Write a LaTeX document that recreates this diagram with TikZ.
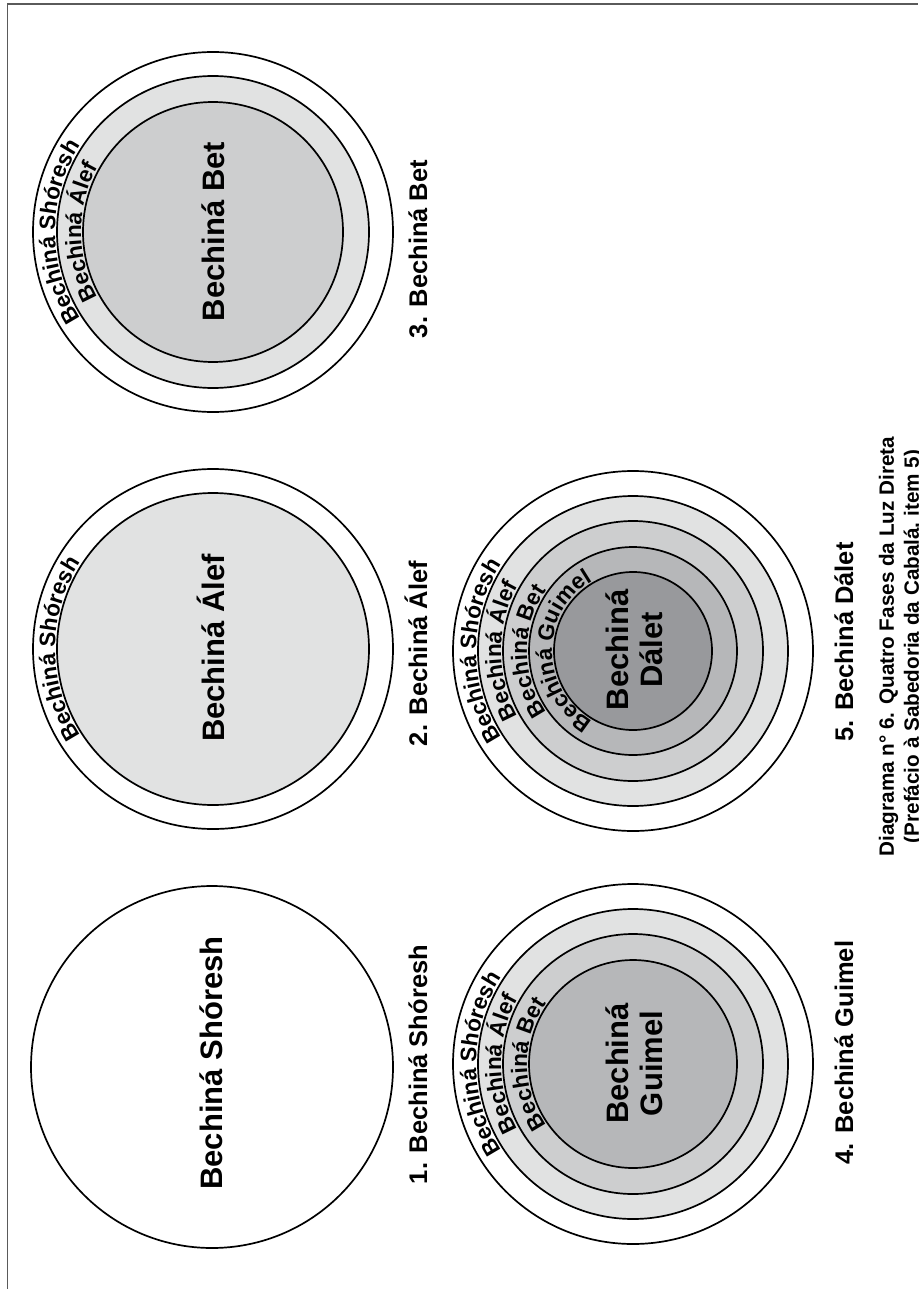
\documentclass[tikz,border=0pt]{standalone}
\usepackage{fontspec}
\setmainfont{Liberation Sans}
\usetikzlibrary{decorations.text}

\definecolor{ringA}{HTML}{E1E2E2}
\definecolor{ringB}{HTML}{CDCECF}
\definecolor{ringC}{HTML}{B6B7B9}
\definecolor{ringD}{HTML}{98999C}
\definecolor{frameline}{HTML}{5A5A5A}

\newcommand\ringfont{\fontsize{22.5}{26}\selectfont\bfseries}
% text running up the left side of a ring: centre, baseline radius, text
\newcommand\arclabel[3]{%
  \path[decorate, decoration={text along path, text align=center,
        text={|\ringfont|#3}}]
    (#1) ++(270:#2) arc[start angle=270, end angle=90, radius=#2];}

\tikzset{
  disc/.style={draw=black, line width=1.7pt},
  centertext/.style={rotate=90, anchor=base, inner sep=0pt,
    font=\fontsize{31}{34}\selectfont\bfseries},
  steplabel/.style={rotate=90, anchor=base, inner sep=0pt,
    font=\fontsize{25.5}{30}\selectfont\bfseries},
  captext/.style={rotate=90, anchor=center, inner sep=0pt, align=center,
    font=\fontsize{20.7}{25}\selectfont\bfseries},
}

\begin{document}
\begin{tikzpicture}[x=1pt, y=1pt]
\useasboundingbox (0,0) rectangle (918,-1289);
\clip (0,0) rectangle (918,-1289);

% page frame
\draw[frameline, line width=1.6pt] (7.5,-1289) -- (7.5,-4) -- (918,-4);

% centres of the five diagrams
\coordinate (cS) at (212,-1067);
\coordinate (cA) at (213,-649);
\coordinate (cB) at (213,-232);
\coordinate (cG) at (633,-1064);
\coordinate (cD) at (633,-651);

% 1. Bechina Shoresh
\draw[disc, fill=white] (cS) circle[radius=181pt];

% 2. Bechina Alef
\draw[disc, fill=white] (cA) circle[radius=180pt];
\draw[disc, fill=ringA] (cA) circle[radius=156pt];
\arclabel{cA}{158pt}{Bechiná Shóresh}

% 3. Bechina Bet
\draw[disc, fill=white] (cB) circle[radius=180pt];
\draw[disc, fill=ringA] (cB) circle[radius=156pt];
\draw[disc, fill=ringB] (cB) circle[radius=130pt];
\arclabel{cB}{158pt}{Bechiná Shóresh}
\arclabel{cB}{132pt}{Bechiná Álef}

% 4. Bechina Guimel
\draw[disc, fill=white] (cG) circle[radius=180pt];
\draw[disc, fill=ringA] (cG) circle[radius=155pt];
\draw[disc, fill=ringB] (cG) circle[radius=130pt];
\draw[disc, fill=ringC] (cG) circle[radius=104pt];
\arclabel{cG}{157pt}{Bechiná Shóresh}
\arclabel{cG}{132pt}{Bechiná Álef}
\arclabel{cG}{106pt}{Bechiná Bet}

% 5. Bechina Dalet
\draw[disc, fill=white] (cD) circle[radius=180pt];
\draw[disc, fill=ringA] (cD) circle[radius=155pt];
\draw[disc, fill=ringB] (cD) circle[radius=130pt];
\draw[disc, fill=ringC] (cD) circle[radius=104pt];
\draw[disc, fill=ringD] (cD) circle[radius=79pt];
\arclabel{cD}{157pt}{Bechiná Shóresh}
\arclabel{cD}{132pt}{Bechiná Álef}
\arclabel{cD}{106pt}{Bechiná Bet}
\arclabel{cD}{81pt}{Bechiná Guimel}

% names inside the circles
\node[centertext] (tS) at (222,-1063) {Bechiná Shóresh};
\node[centertext] (tA) at (224,-648) {Bechiná Álef};
\node[centertext] (tB) at (224,-231.5) {Bechiná Bet};
\node[centertext, anchor=center, align=center] (tG) at (634,-1063.5) {Bechiná\\Guimel};
\node[centertext, anchor=center, align=center] (tD) at (634,-650) {Bechiná\\Dálet};

% numbered labels
\node[steplabel] (l1) at (427,-1064.5) {1. Bechiná Shóresh};
\node[steplabel] (l2) at (427,-653.5) {2. Bechiná Álef};
\node[steplabel] (l3) at (427,-249) {3. Bechiná Bet};
\node[steplabel] (l4) at (853,-1052.5) {4. Bechiná Guimel};
\node[steplabel] (l5) at (853,-642) {5. Bechiná Dálet};

% caption
\node[captext] (cap) at (901,-646.5)
  {Diagrama n° 6. Quatro Fases da Luz Direta\\(Prefácio à Sabedoria da Cabalá, item 5)};
\end{tikzpicture}
\end{document}
